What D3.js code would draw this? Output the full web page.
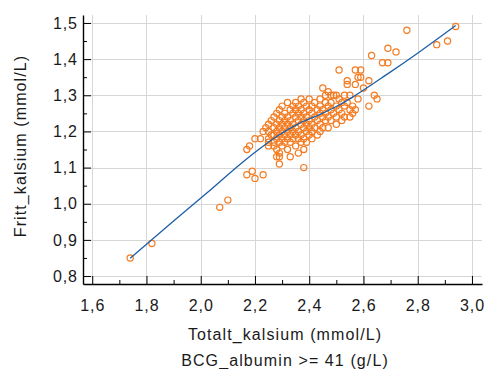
<!DOCTYPE html>
<html>
<head>
<meta charset="utf-8">
<script src="https://cdn.jsdelivr.net/npm/d3@7"></script>
<style>
  html, body { margin: 0; padding: 0; background: #fff; }
  svg { display: block; font-family: "Liberation Sans", Arial, sans-serif; }
</style>
</head>
<body>
<svg id="chart" width="486" height="369"></svg>
<script>
// ---- Data ----
const xTicks = [1.6, 1.8, 2.0, 2.2, 2.4, 2.6, 2.8, 3.0];
const yTicks = [0.8, 0.9, 1.0, 1.1, 1.2, 1.3, 1.4, 1.5];
const xTitle = "Totalt_kalsium (mmol/L)";
const xSubtitle = "BCG_albumin >= 41 (g/L)";
const yTitle = "Fritt_kalsium (mmol/L)";

// isolated observations [Totalt_kalsium, Fritt_kalsium]
const sparsePoints = [
  [1.74,0.85],[1.82,0.89],[2.07,0.99],[2.10,1.01],
  [2.17,1.08],[2.19,1.09],[2.20,1.07],[2.23,1.08],
  [2.38,1.10],[2.29,1.11],[2.28,1.13],[2.29,1.13],[2.33,1.13],[2.38,1.15],
  [2.17,1.15],[2.18,1.16],[2.20,1.18],[2.22,1.18],
  [2.94,1.49],[2.76,1.48],[2.87,1.44],[2.91,1.45],[2.69,1.43],[2.72,1.42],
  [2.63,1.41],[2.67,1.39],[2.69,1.39],[2.51,1.37],[2.57,1.37],[2.59,1.37],
  [2.58,1.35],[2.59,1.35],[2.54,1.34],[2.54,1.33],[2.57,1.33],[2.62,1.34],
  [2.60,1.32],[2.64,1.30],[2.65,1.29],[2.58,1.29],[2.62,1.27],[2.45,1.32],
  [2.55,1.30],[2.47,1.21],[2.56,1.25],[2.49,1.30]
];

// dense cluster: one row of Totalt_kalsium values per Fritt_kalsium value
const clusterY = [1.31, 1.30, 1.29, 1.28, 1.27, 1.26, 1.25, 1.24, 1.23, 1.22, 1.21, 1.20, 1.19, 1.18, 1.17, 1.16, 1.15, 1.14];
const clusterX = [
  [2.47],
  [2.46, 2.48, 2.50, 2.53],
  [2.37, 2.40, 2.44, 2.51],
  [2.32, 2.35, 2.38, 2.42, 2.46, 2.48, 2.52, 2.54],
  [2.30, 2.34, 2.36, 2.39, 2.41, 2.44, 2.47, 2.50, 2.53, 2.56],
  [2.29, 2.33, 2.35, 2.37, 2.40, 2.43, 2.45, 2.48, 2.51, 2.55, 2.57],
  [2.28, 2.31, 2.34, 2.36, 2.38, 2.41, 2.44, 2.46, 2.49, 2.52],
  [2.27, 2.30, 2.32, 2.35, 2.37, 2.39, 2.42, 2.45, 2.47, 2.50, 2.53, 2.55],
  [2.26, 2.29, 2.31, 2.33, 2.36, 2.38, 2.40, 2.43, 2.46, 2.48, 2.52],
  [2.25, 2.28, 2.30, 2.32, 2.34, 2.37, 2.39, 2.41, 2.44, 2.50],
  [2.24, 2.27, 2.29, 2.31, 2.33, 2.35, 2.38, 2.40, 2.42, 2.45],
  [2.23, 2.25, 2.28, 2.30, 2.32, 2.34, 2.36, 2.39, 2.41, 2.44],
  [2.26, 2.27, 2.29, 2.31, 2.33, 2.35, 2.37, 2.40, 2.43],
  [2.25, 2.28, 2.30, 2.32, 2.34, 2.36, 2.38, 2.41],
  [2.25, 2.27, 2.29, 2.31, 2.33, 2.37, 2.39],
  [2.25, 2.27, 2.30, 2.35],
  [2.28, 2.32],
  [2.29, 2.36]
];

// smoothed fit curve
const fitX = [1.74, 1.90, 2.04, 2.14, 2.21, 2.28, 2.365, 2.44, 2.51, 2.56, 2.685, 2.81, 2.94];
const fitY = [0.849, 0.952, 1.041, 1.106, 1.148, 1.186, 1.223, 1.247, 1.273, 1.295, 1.357, 1.422, 1.493];

// ---- Build ----
const points = sparsePoints.map(d => ({x: d[0], y: d[1]}));
clusterY.forEach((yv, i) => clusterX[i].forEach(xv => points.push({x: xv, y: yv})));
const fit = fitX.map((xv, i) => ({x: xv, y: fitY[i]}));

const svg = d3.select("#chart");
const mLeft = 83, mRight = 482, mTop = 15, mBottom = 284;
const x = d3.scaleLinear().domain([1.566, 3.037]).range([mLeft, mRight]);
const y = d3.scaleLinear().domain([0.778, 1.522]).range([mBottom, mTop]);
const fmt = v => d3.format(".1f")(v).replace(".", ",");

// gridlines
const grid = svg.append("g").attr("stroke", "#d6d6d6").attr("stroke-width", 1);
grid.selectAll("line.v").data(xTicks).join("line")
  .attr("x1", d => Math.round(x(d)) + 0.5).attr("x2", d => Math.round(x(d)) + 0.5)
  .attr("y1", mTop).attr("y2", mBottom);
grid.selectAll("line.h").data(yTicks).join("line")
  .attr("y1", d => Math.round(y(d)) + 0.5).attr("y2", d => Math.round(y(d)) + 0.5)
  .attr("x1", mLeft).attr("x2", mRight);

// minor ticks
const xMinor = xTicks.slice(0, -1).map(d => d + 0.1);
const yMinor = yTicks.slice(0, -1).map(d => d + 0.05);
svg.append("g").attr("transform", `translate(0,${mBottom})`)
  .call(d3.axisBottom(x).tickValues(xMinor).tickSize(-4).tickSizeOuter(0).tickFormat(""))
  .call(g => g.select(".domain").remove());
svg.append("g").attr("transform", `translate(${mLeft},0)`)
  .call(d3.axisLeft(y).tickValues(yMinor).tickSize(-4).tickSizeOuter(0).tickFormat(""))
  .call(g => g.select(".domain").remove());

// main axes
const xAxis = svg.append("g").attr("transform", `translate(0,${mBottom})`)
  .call(d3.axisBottom(x).tickValues(xTicks).tickSize(-8).tickSizeOuter(0).tickPadding(16).tickFormat(fmt));
const yAxis = svg.append("g").attr("transform", `translate(${mLeft},0)`)
  .call(d3.axisLeft(y).tickValues(yTicks).tickSize(-8).tickSizeOuter(0).tickPadding(6).tickFormat(fmt));
[xAxis, yAxis].forEach(g => {
  g.selectAll("text").attr("font-size", 16).attr("fill", "#1a1a1a")
    .attr("letter-spacing", "0.9px")
    .attr("font-family", "'Liberation Sans', Arial, sans-serif");
  g.selectAll("line").attr("stroke", "#000");
  g.select(".domain").attr("stroke", "#000").attr("stroke-width", 1.4);
});
yAxis.selectAll("text").attr("dx", "0.9px");

// points
svg.append("g").selectAll("circle").data(points).join("circle")
  .attr("cx", d => x(d.x)).attr("cy", d => y(d.y)).attr("r", 3.1)
  .attr("fill", "none").attr("stroke", "#f47b20").attr("stroke-width", 1.2);

// fit line
svg.append("path").datum(fit)
  .attr("fill", "none").attr("stroke", "#1d5fa6").attr("stroke-width", 1.3)
  .attr("d", d3.line().x(d => x(d.x)).y(d => y(d.y)).curve(d3.curveMonotoneX));

// titles
const titleStyle = s => s.attr("font-size", 16).attr("fill", "#1a1a1a").attr("letter-spacing", "1.1px");
svg.append("text").attr("x", 285).attr("y", 340).attr("text-anchor", "middle")
  .call(titleStyle).text(xTitle);
svg.append("text").attr("x", 285).attr("y", 366).attr("text-anchor", "middle")
  .call(titleStyle).text(xSubtitle);
svg.append("text").attr("transform", "translate(26,146) rotate(-90)").attr("text-anchor", "middle")
  .call(titleStyle).text(yTitle);
</script>
</body>
</html>
